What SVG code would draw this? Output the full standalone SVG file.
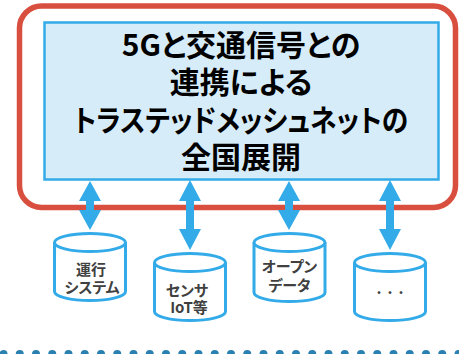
<svg xmlns="http://www.w3.org/2000/svg" width="459" height="354" viewBox="0 0 459 354">
<style>
.main{font-family:"Noto Sans CJK JP","Noto Sans",sans-serif;font-weight:bold;font-size:30px;fill:#000;text-anchor:middle;font-feature-settings:"palt"}
.lbl{font-family:"Noto Sans CJK JP","Noto Sans",sans-serif;font-weight:bold;font-size:15px;fill:#404040;text-anchor:middle;font-feature-settings:"palt"}
.dots{font-family:"Noto Sans CJK JP","Noto Sans",sans-serif;font-weight:bold;font-size:11px;fill:#404040;text-anchor:middle}
.cyl{fill:#fff;stroke:#33abe8;stroke-width:3}
.arr{fill:#33abe8}
</style>
<rect width="459" height="354" fill="#fff"/>
<g id="frame">
<rect x="19.5" y="6" width="436" height="201.5" rx="22" fill="none" stroke="#d94f3f" stroke-width="5.5"/>
</g>
<g id="main-node">
<rect x="44.5" y="22.5" width="394" height="157" fill="#d7ecf9" stroke="#33abe8" stroke-width="2.5"/>
<text class="main" x="241" y="55.5">5Gと交通信号との</text>
<text class="main" x="241" y="93">連携による</text>
<text class="main" x="241" y="130.5" textLength="334" lengthAdjust="spacingAndGlyphs">トラステッドメッシュネットの</text>
<text class="main" x="241" y="168">全国展開</text>
</g>
<g id="connectors">
<polygon class="arr" points="90,181 101,201 94,201 94,210 101,210 90,230 79,210 86,210 86,201 79,201"/>
<polygon class="arr" points="190,180 201,201 194,201 194,229 201,229 190,250 179,229 186,229 186,201 179,201"/>
<polygon class="arr" points="289,181 300,201 293,201 293,210 300,210 289,230 278,210 285,210 285,201 278,201"/>
<polygon class="arr" points="390,180 401,201 394,201 394,229 401,229 390,250 379,229 386,229 386,201 379,201"/>
</g>
<g id="cyl1">
<path class="cyl" d="M54.5,242.5 V291.5 A35.5,9 0 0 0 125.5,291.5 V242.5"/>
<ellipse class="cyl" cx="90" cy="242.5" rx="35.5" ry="9"/>
<text class="lbl" x="91" y="275">運行</text>
<text class="lbl" x="92" y="293">システム</text>
</g>
<g id="cyl2">
<path class="cyl" d="M154.5,262.5 V311.5 A35.5,9 0 0 0 225.5,311.5 V262.5"/>
<ellipse class="cyl" cx="190" cy="262.5" rx="35.5" ry="9"/>
<text class="lbl" x="187" y="295.5">センサ</text>
<text class="lbl" x="189" y="313">IoT等</text>
</g>
<g id="cyl3">
<path class="cyl" d="M254,242.5 V292.5 A35.5,9 0 0 0 325,292.5 V242.5"/>
<ellipse class="cyl" cx="289.5" cy="242.5" rx="35.5" ry="9"/>
<text class="lbl" x="289.5" y="272">オープン</text>
<text class="lbl" x="289.5" y="291">データ</text>
</g>
<g id="cyl4">
<path class="cyl" d="M354.5,262.5 V311.5 A35.5,9 0 0 0 425.5,311.5 V262.5"/>
<ellipse class="cyl" cx="390" cy="262.5" rx="35.5" ry="9"/>
<text class="dots" x="390" y="297">・・・</text>
</g>
<g id="divider">
<line x1="3.5" y1="354" x2="459" y2="354" stroke="#2a80b0" stroke-width="8" stroke-linecap="round" stroke-dasharray="0 16.25"/>
</g>
</svg>
